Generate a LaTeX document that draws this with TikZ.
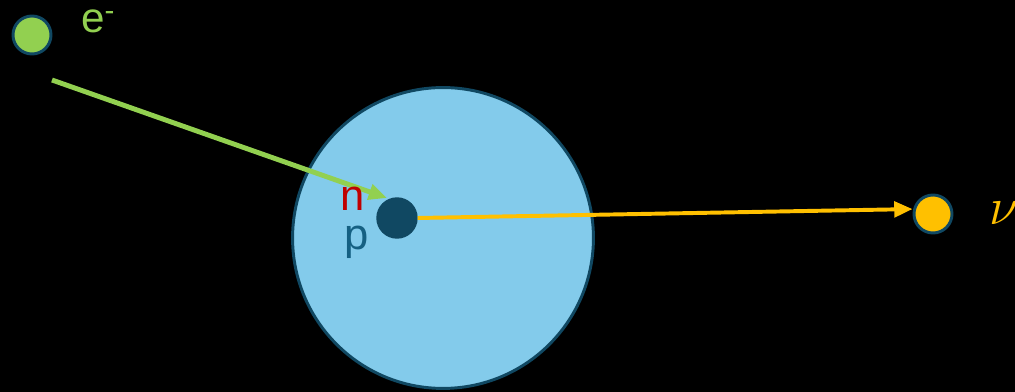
\documentclass[tikz,border=0pt]{standalone}
\usepackage{fontspec}
\setmainfont{Liberation Sans}
\usetikzlibrary{positioning, arrows.meta}

\definecolor{ltgreen}{HTML}{92D050}
\definecolor{nucblue}{HTML}{83CBEB}
\definecolor{dkblue}{HTML}{104862}
\definecolor{pblue}{HTML}{156082}
\definecolor{nured}{HTML}{C00000}
\definecolor{gold}{HTML}{FFC000}

\begin{document}
\begin{tikzpicture}[
	x=0.025cm, y=-0.025cm,
	particle/.style={circle, draw=dkblue, line width=2.1pt, minimum size=0.95cm, inner sep=0pt},
	nucleus/.style={circle, draw=dkblue, fill=nucblue, line width=2.1pt, minimum size=7.52cm, inner sep=0pt},
	core/.style={circle, draw=dkblue, fill=dkblue, line width=1pt, minimum size=1cm, inner sep=0pt},
	lbl/.style={inner sep=0pt, anchor=base},
	arrow/.style={-{Triangle[length=13pt, width=11pt]}}
]
	\fill[black] (0,0) rectangle (1015,392);
	\useasboundingbox (0,0) rectangle (1015,392);

	\node[nucleus] (atom) at (443,238) {};
	\node[core] (nuc) at (397,218) {};
	\node[particle, fill=ltgreen] (el) at (32,35) {};
	\node[particle, fill=gold] (nu) at (933,214) {};

	\coordinate (etail) at (52,80);
	\coordinate (ehead) at (387,198);

	\draw[arrow, ltgreen, line width=3.5pt] (etail) -- (ehead);
	\draw[arrow, gold, line width=2.8pt] (nuc.east) -- ([yshift=3.5pt]nu.west);

	\node[lbl, anchor=base west, text=ltgreen, font=\fontsize{30}{32}\selectfont] (ellbl) at (81,33) {e\textsuperscript{-}};
	\node[lbl, text=nured, font=\fontsize{31}{33}\selectfont] (nlbl) at (353,211) {n};
	\node[lbl, text=pblue, font=\fontsize{31}{33}\selectfont] (plbl) at (357,250) {p};
	\node[lbl, anchor=base west, text=gold, font=\fontsize{24.88}{27}\selectfont] (nulbl) at (989,225) {\scalebox{1.5}{$\nu$}};
\end{tikzpicture}
\end{document}
